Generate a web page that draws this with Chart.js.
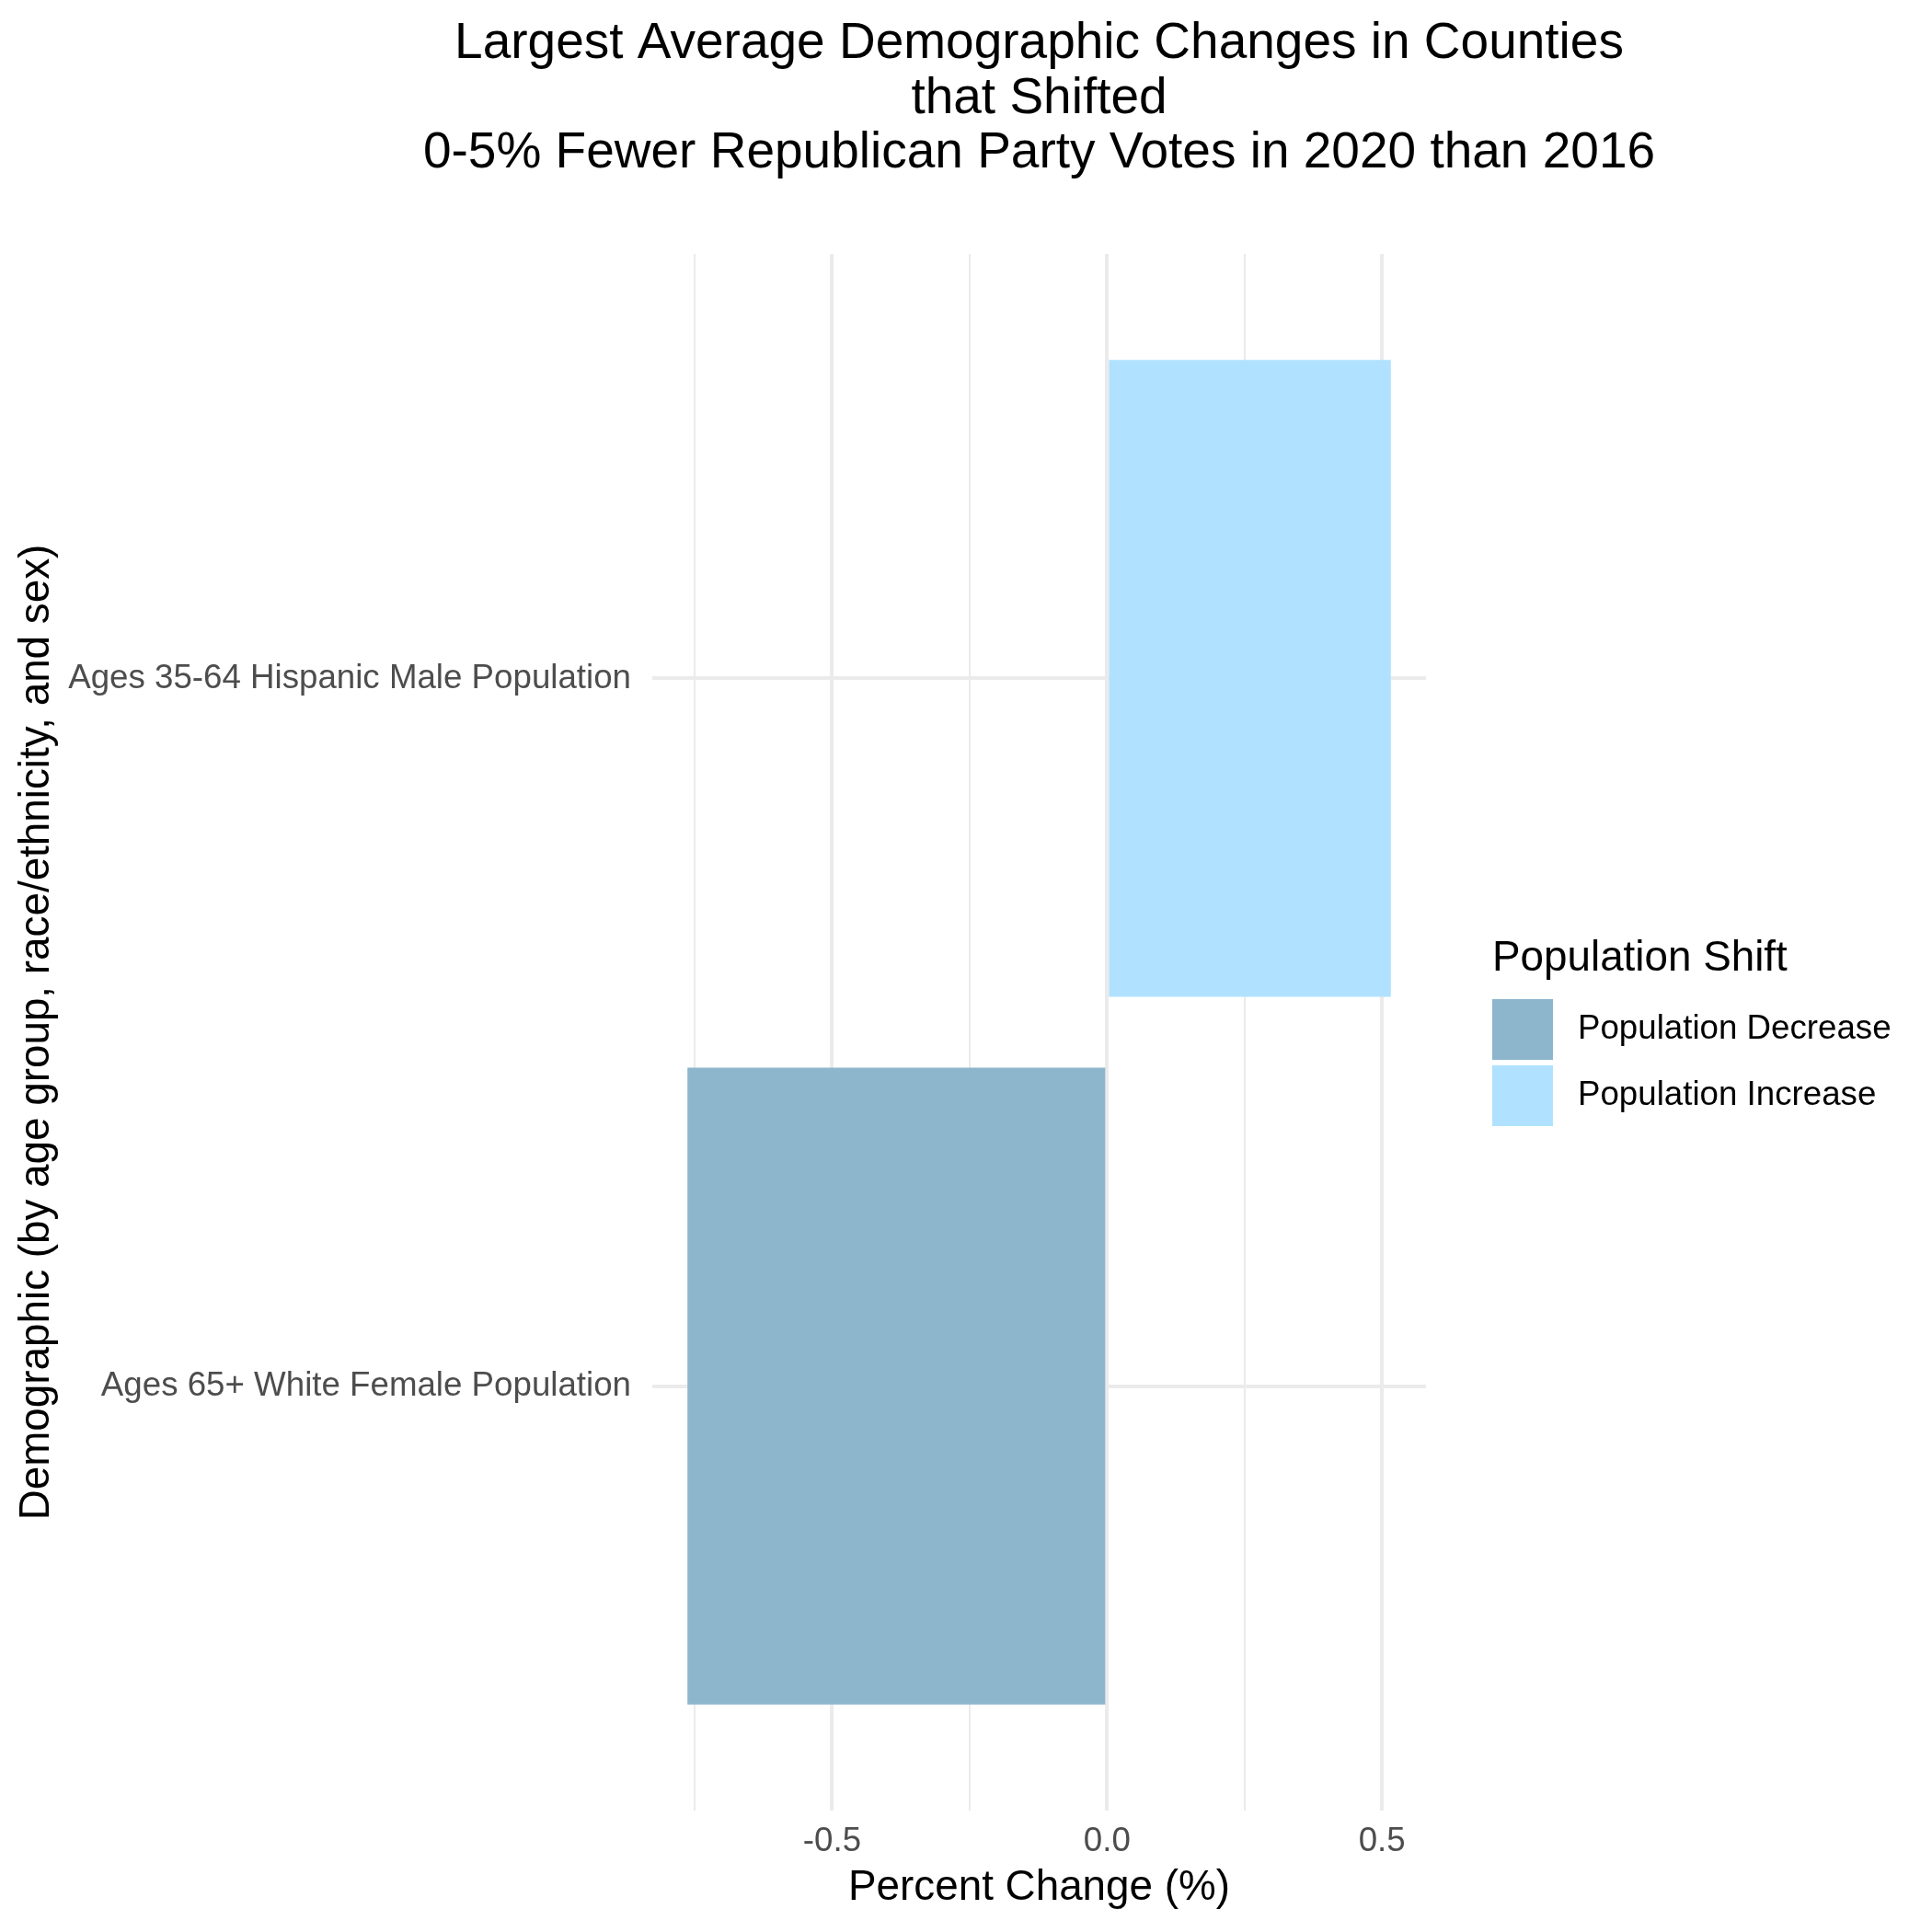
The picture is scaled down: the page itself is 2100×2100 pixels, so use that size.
<!DOCTYPE html>
<html>
<head>
<meta charset="utf-8">
<script src="https://cdn.jsdelivr.net/npm/chart.js@4.4.1/dist/chart.umd.min.js"></script>
<style>
  html, body { margin: 0; padding: 0; background: #ffffff; }
  #wrap { width: 2100px; height: 2100px; }
</style>
</head>
<body>
<div id="wrap"><canvas id="c" width="2100" height="2100"></canvas></div>
<script>
// ---- data ----
const titleLines = [
  "Largest Average Demographic Changes in Counties",
  "that Shifted",
  "0-5% Fewer Republican Party Votes in 2020 than 2016"
];
const categories = [
  "Ages 35-64 Hispanic Male Population",
  "Ages 65+ White Female Population"
];
const percentChange = [0.516, -0.763];
const shiftLabels = ["Population Decrease", "Population Increase"];
const shiftColors = ["#8DB6CD", "#B0E2FF"];
const xGridTicks = [-0.75, -0.5, -0.25, 0, 0.25, 0.5];
const xAxisTitle = "Percent Change (%)";
const yAxisTitle = "Demographic (by age group, race/ethnicity, and sex)";
const legendTitle = "Population Shift";

// ---- derived ----
const n = categories.length;
const points = categories.map((c, i) => ({ x: percentChange[i], y: n - i }));
const lo = Math.min(0, ...percentChange), hi = Math.max(0, ...percentChange);
const pad = (hi - lo) * 0.05;
const FONT = "'Liberation Sans', Arial, Helvetica, sans-serif";

const overlay = {
  id: 'overlay',
  afterDraw(chart) {
    const ctx = chart.ctx;
    const ca = chart.chartArea;
    ctx.save();
    // title
    ctx.fillStyle = '#000000';
    ctx.font = `55px ${FONT}`;
    ctx.textAlign = 'center';
    ctx.textBaseline = 'alphabetic';
    const cx = (ca.left + ca.right) / 2;
    titleLines.forEach((t, i) => ctx.fillText(t, cx, 63.3 + i * 59.2));
    // legend
    const lx = 1622;
    ctx.textAlign = 'left';
    ctx.font = `45.8px ${FONT}`;
    ctx.fillText(legendTitle, lx, 1055);
    ctx.font = `36.7px ${FONT}`;
    ctx.textBaseline = 'middle';
    chart.data.datasets.forEach((ds, i) => {
      const top = 1086 + i * 72;
      ctx.fillStyle = ds.backgroundColor;
      ctx.fillRect(lx, top, 66, 66);
      ctx.fillStyle = '#000000';
      ctx.fillText(ds.label, 1715, top + 33);
    });
    ctx.restore();
  }
};

new Chart(document.getElementById('c'), {
  type: 'bar',
  data: {
    datasets: shiftLabels.map((lab, k) => ({
      label: lab,
      data: points.filter(p => (k === 0 ? p.x < 0 : p.x >= 0)),
      backgroundColor: shiftColors[k],
      borderWidth: 0,
      grouped: false,
      barPercentage: 0.9,
      categoryPercentage: 1.0
    }))
  },
  options: {
    indexAxis: 'y',
    responsive: false,
    animation: false,
    events: [],
    layout: { padding: { top: 276, right: 550, left: 0, bottom: 0 } },
    plugins: { legend: { display: false }, title: { display: false }, tooltip: { enabled: false } },
    scales: {
      x: {
        type: 'linear',
        min: lo - pad,
        max: hi + pad,
        afterBuildTicks: s => { s.ticks = xGridTicks.map(v => ({ value: v })); },
        afterFit: s => { s.height = 132; },
        grid: {
          color: '#EBEBEB',
          lineWidth: c => (Math.abs(c.tick.value * 2 - Math.round(c.tick.value * 2)) < 1e-9 ? 4 : 2),
          drawTicks: false
        },
        border: { display: false },
        ticks: {
          autoSkip: false,
          maxRotation: 0,
          padding: 12,
          color: '#4D4D4D',
          font: { family: FONT, size: 36.7, lineHeight: 1.2 },
          callback: v => (Math.abs(v * 2 - Math.round(v * 2)) < 1e-9 ? v.toFixed(1) : '')
        },
        title: {
          display: true,
          text: xAxisTitle,
          color: '#000000',
          font: { family: FONT, size: 45.8, lineHeight: 1.2 },
          padding: { top: 0, bottom: 20 }
        }
      },
      y: {
        type: 'linear',
        offset: false,
        min: 1 - 0.6,
        max: n + 0.6,
        afterBuildTicks: s => { s.ticks = categories.map((c, i) => ({ value: n - i })); },
        afterFit: s => { s.width = 709; },
        grid: { color: '#EBEBEB', lineWidth: 4, drawTicks: false, offset: false },
        border: { display: false },
        ticks: {
          autoSkip: false,
          padding: 23,
          color: '#4D4D4D',
          font: { family: FONT, size: 36.7, lineHeight: 1.2 },
          callback: v => categories[n - v]
        },
        title: {
          display: true,
          text: yAxisTitle,
          color: '#000000',
          font: { family: FONT, size: 45.8, lineHeight: 1.2 },
          padding: { top: 12.5, bottom: 0 }
        }
      }
    }
  },
  plugins: [overlay]
});
</script>
</body>
</html>
